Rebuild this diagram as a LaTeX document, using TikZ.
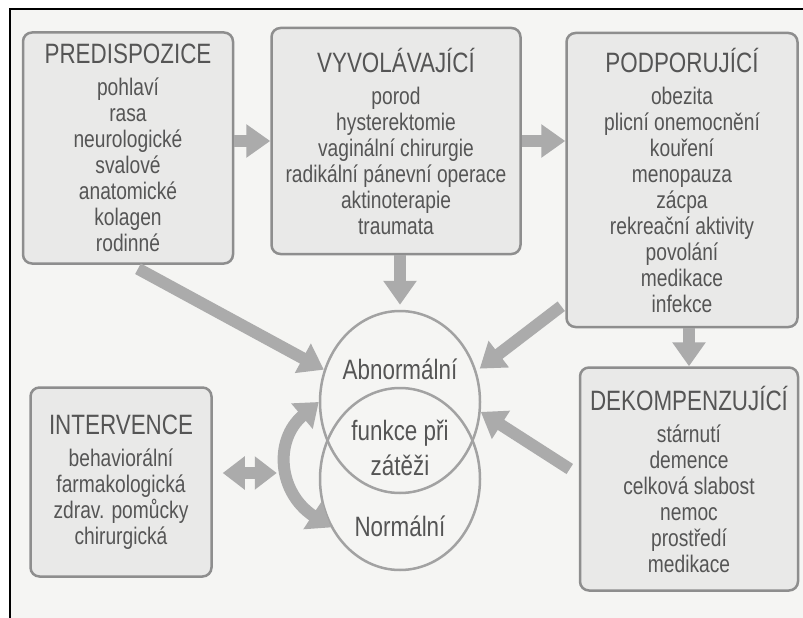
\documentclass[tikz,border=0pt]{standalone}
\usepackage{fontspec}
\setmainfont{Liberation Sans}[FakeStretch=0.8]
\usepackage{xcolor}
\usetikzlibrary{shapes,arrows.meta,positioning,calc}

\definecolor{boxfill}{HTML}{E9E9E8}
\definecolor{boxline}{HTML}{8E8E8E}
\definecolor{ink}{HTML}{555555}
\definecolor{flow}{HTML}{ABABAB}
\definecolor{paper}{HTML}{F5F5F3}
\definecolor{ringline}{HTML}{A2A2A2}

\newcommand{\stagehead}[1]{{\fontsize{28}{30}\selectfont #1}\\[6pt]}

\begin{document}
\begin{tikzpicture}[
    x=1pt, y=-1pt,
    stage/.style={rectangle, draw=boxline, line width=2.5pt, fill=boxfill, rounded corners=9pt, align=center, text=ink, inner sep=0pt, font=\fontsize{24}{26}\selectfont},
    ring/.style={ellipse, draw=ringline, line width=2.5pt, minimum width=160pt, minimum height=182pt, inner sep=0pt},
    ringtext/.style={align=center, text=ink, inner sep=0pt, font=\fontsize{28}{35}\selectfont},
    arrow/.style={-{Triangle[width=32pt,length=24pt]}, line width=12pt, draw=flow},
    twoway/.style={{Triangle[width=32pt,length=22pt]}-{Triangle[width=32pt,length=22pt]}, line width=12pt, draw=flow}
]
    \useasboundingbox (0,0) rectangle (803,618);
    \fill[white] (0,0) rectangle (803,618);
    \fill[paper] (10,9) rectangle (803,618);
    \draw[black, line width=2.5pt] (10,618) -- (10,9) -- (803,9);

    \node[stage, minimum width=210pt, minimum height=231pt] (pre) at (128,148) {\stagehead{PREDISPOZICE}pohlaví\\rasa\\neurologické\\svalové\\anatomické\\kolagen\\rodinné};

    \node[stage, minimum width=249pt, minimum height=226pt] (vyv) at (396,141) {\stagehead{VYVOLÁVAJÍCÍ}porod\\hysterektomie\\vaginální chirurgie\\radikální pánevní operace\\aktinoterapie\\traumata};

    \node[stage, minimum width=231pt, minimum height=294pt] (pod) at (682,180) {\stagehead{PODPORUJÍCÍ}obezita\\plicní onemocnění\\kouření\\menopauza\\zácpa\\rekreační aktivity\\povolání\\medikace\\infekce};

    \node[stage, minimum width=218pt, minimum height=223pt] (dek) at (689,479) {\stagehead{DEKOMPENZUJÍCÍ}stárnutí\\demence\\celková slabost\\nemoc\\prostředí\\medikace};

    \node[stage, minimum width=181pt, minimum height=189pt] (int) at (121,482) {\stagehead{INTERVENCE}behaviorální\\farmakologická\\zdrav. pomůcky\\chirurgická};

    \node[ring] (abn) at (400,402) {};
    \node[ring] (nor) at (400,479) {};
    \node[ringtext] (abntext) at (400,369) {Abnormální};
    \node[ringtext] (midtext) at (400,448) {funkce při\\zátěži};
    \node[ringtext] (nortext) at (400,526) {Normální};

    \draw[arrow] (pre.east |- vyv.west) -- (vyv.west);
    \draw[arrow] (vyv.east) -- (pod.west |- vyv.east);
    \draw[arrow, shorten >=5pt] (vyv.south -| abn.north) -- (abn.north);
    \draw[arrow] ($(pre.south)+(10,4)$) -- (abn.157);
    \draw[arrow, shorten >=4pt] ($(pod.south west)+(-4,-22)$) -- (abn.22);
    \draw[arrow] (pod.south -| dek.north) -- (dek.north);
    \draw[arrow] ($(dek.west)+(-9,-10)$) -- (abn.-7);
    \draw[twoway] ($(int.east)+(10,-9)$) -- ($(int.east)+(64,-9)$);
    \draw[twoway] (nor.215) .. controls ($(nor.215)+(-53,-35)$) and ($(abn.west)+(-45,38)$) .. (abn.west);
\end{tikzpicture}
\end{document}
